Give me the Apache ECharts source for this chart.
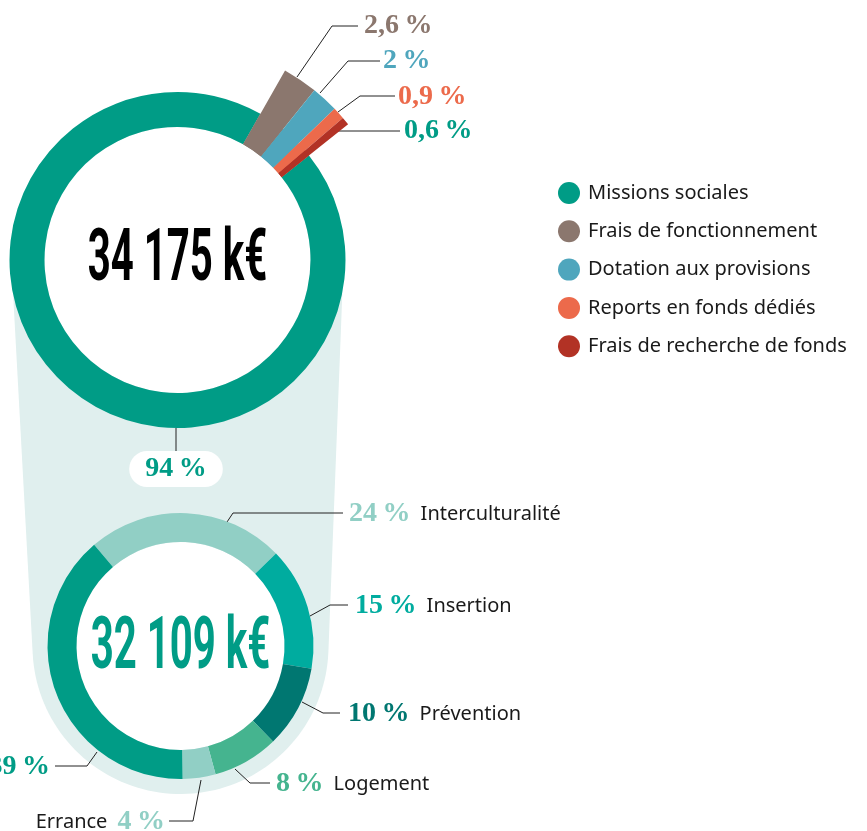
<!DOCTYPE html>
<html>
<head>
<meta charset="utf-8">
<script src="https://cdn.jsdelivr.net/npm/echarts@6/dist/echarts.min.js"></script>
<style>
  html, body { margin: 0; padding: 0; background: #fff; }
  #chart { width: 867px; height: 831px; }
</style>
</head>
<body>
<div id="chart"></div>
<script>
// budget total (top donut)
const topNames = ['Missions sociales', 'Frais de fonctionnement', 'Dotation aux provisions', 'Reports en fonds dédiés', 'Frais de recherche de fonds'];
const topValues = [94, 2.6, 2, 0.9, 0.6];
const topColors = ['#009c86', '#8b776e', '#4fa6bd', '#ec6a4b', '#b23225'];
const topTotal = '34 175 k€';

// detail of missions sociales (bottom donut)
const subNames = ['Interculturalité', 'Insertion', 'Prévention', 'Logement', 'Errance', ''];
const subValues = [24, 15, 10, 8, 4, 39];
const subColors = ['#91cfc5', '#00ac9f', '#007771', '#45b48f', '#91cfc5', '#009c86'];
const subTotal = '32 109 k€';

const topCenter = [177.5, 260];
const subCenter = [180.5, 646];

const serif = '"Liberation Serif", "DejaVu Serif", serif';
const sans = '"Noto Sans", "Open Sans", sans-serif';

function pct(v) {
  return String(v).replace('.', ',') + '\u2009%';
}

// label anchors (x, y, align) and leader lines, by data index
const topLabelPos = [
  null,
  { x: 364, y: 26, align: 'left', line: [[297, 77], [332, 26], [358, 26]] },
  { x: 383, y: 61, align: 'left', line: [[320, 93], [348, 61], [380, 61]] },
  { x: 398, y: 97, align: 'left', line: [[338, 112], [360, 96], [395, 96]] },
  { x: 404, y: 131, align: 'left', line: [[336, 131], [368, 131], [400, 131]] }
];
const subLabelPos = [
  { x: 349, y: 514, align: 'left', line: [[227, 522], [233, 513], [343, 513]] },
  { x: 355, y: 606, align: 'left', line: [[310, 616], [330, 605], [348, 605]] },
  { x: 348, y: 714, align: 'left', line: [[302, 702], [323, 713], [340, 713]] },
  { x: 276, y: 784, align: 'left', line: [[235, 769], [250, 783], [270, 783]] },
  { x: 165, y: 822, align: 'right', line: [[201, 780], [193, 821], [169, 821]] },
  { x: 50, y: 767, align: 'right', line: [[97, 752], [87, 766], [55, 766]] }
];

function layoutFrom(table) {
  return function (params) {
    const p = table[params.dataIndex];
    if (!p) return {};
    return { x: p.x, y: p.y, align: p.align, verticalAlign: 'middle', labelLinePoints: p.line };
  };
}

// hull shape behind both donuts
function hullPoints(c1, r1, c2, r2) {
  const dx = c2[0] - c1[0], dy = c2[1] - c1[1];
  const L = Math.sqrt(dx * dx + dy * dy);
  const phi = Math.atan2(dy, dx);
  const a = Math.acos((r1 - r2) / L);
  const pts = [];
  const n = 80;
  for (let i = 0; i <= n; i++) {
    const t = phi + a + (2 * Math.PI - 2 * a) * i / n;
    pts.push([c1[0] + r1 * Math.cos(t), c1[1] + r1 * Math.sin(t)]);
  }
  for (let i = 0; i <= n; i++) {
    const t = phi - a + 2 * a * i / n;
    pts.push([c2[0] + r2 * Math.cos(t), c2[1] + r2 * Math.sin(t)]);
  }
  return pts;
}

const subRich = {
  n: { fontFamily: sans, fontSize: 20, color: '#1a1a1a', padding: [0, 10, 0, 10] }
};
subColors.forEach((c, i) => {
  subRich['p' + i] = { fontFamily: serif, fontWeight: 'bold', fontSize: 28, color: c };
});

const chart = echarts.init(document.getElementById('chart'), null, { renderer: 'canvas' });

const option = {
  animation: false,
  backgroundColor: '#fff',
  legend: {
    data: topNames,
    orient: 'vertical',
    left: 553,
    top: 177,
    icon: 'circle',
    itemWidth: 22,
    itemHeight: 22,
    itemGap: 16.3,
    selectedMode: false,
    textStyle: { fontFamily: sans, fontSize: 20, color: '#1a1a1a', padding: [0, 0, 0, 3] }
  },
  graphic: [
    {
      type: 'polygon', z: 0, silent: true,
      shape: { points: hullPoints(topCenter, 166, subCenter, 148) },
      style: { fill: '#e0efee' }
    },
    {
      type: 'circle', z: 1, silent: true,
      shape: { cx: topCenter[0], cy: topCenter[1], r: 133 },
      style: { fill: '#fff' }
    },
    {
      type: 'circle', z: 1, silent: true,
      shape: { cx: subCenter[0], cy: subCenter[1], r: 104 },
      style: { fill: '#fff' }
    },
    {
      type: 'text', z: 10, silent: true,
      x: topCenter[0], y: 262, scaleX: 0.55,
      style: { text: topTotal, fontFamily: 'Roboto', fontWeight: 'bold', fontSize: 73, fill: '#000', align: 'center', verticalAlign: 'middle' }
    },
    {
      type: 'text', z: 10, silent: true,
      x: subCenter[0], y: 650, scaleX: 0.55,
      style: { text: subTotal, fontFamily: 'Roboto', fontWeight: 'bold', fontSize: 73, fill: '#009c86', align: 'center', verticalAlign: 'middle' }
    }
  ],
  series: [
    {
      // main ring
      type: 'pie',
      center: topCenter,
      radius: [133, 168],
      startAngle: 38.5,
      avoidLabelOverlap: false,
      silent: true,
      emphasis: { disabled: true },
      data: topNames.map((n, i) => ({
        name: n,
        value: topValues[i],
        itemStyle: { color: topColors[i] },
        label: { show: i === 0 },
        labelLine: { show: i === 0 }
      })),
      label: {
        formatter: p => pct(p.value),
        fontFamily: serif,
        fontWeight: 'bold',
        fontSize: 28,
        color: topColors[0],
        backgroundColor: '#fff',
        borderRadius: 18,
        padding: [5, 16, 3, 16]
      },
      labelLine: { lineStyle: { color: '#222', width: 1 } },
      labelLayout: function (params) {
        if (params.dataIndex !== 0) return {};
        return { x: 176, y: 469, align: 'center', verticalAlign: 'middle', labelLinePoints: [[176, 428], [176, 440], [176, 451]] };
      }
    },
    {
      // pulled-out small slices
      type: 'pie',
      center: topCenter,
      radius: [133, 218],
      startAngle: 38.5,
      avoidLabelOverlap: false,
      silent: true,
      emphasis: { disabled: true },
      data: topNames.map((n, i) => ({
        name: n,
        value: topValues[i],
        itemStyle: { color: i === 0 ? 'rgba(0,0,0,0)' : topColors[i] },
        label: { show: i !== 0, color: topColors[i === 4 ? 0 : i] },
        labelLine: { show: i !== 0 }
      })),
      label: {
        formatter: p => pct(p.value),
        fontFamily: serif,
        fontWeight: 'bold',
        fontSize: 28
      },
      labelLine: { lineStyle: { color: '#222', width: 1 } },
      labelLayout: layoutFrom(topLabelPos)
    },
    {
      type: 'pie',
      center: subCenter,
      radius: [104, 133],
      startAngle: 130.5,
      avoidLabelOverlap: false,
      silent: true,
      emphasis: { disabled: true },
      data: subNames.map((n, i) => ({
        name: n,
        value: subValues[i],
        itemStyle: { color: subColors[i] }
      })),
      label: {
        formatter: function (p) {
          const v = '{p' + p.dataIndex + '|' + pct(p.value) + '}';
          if (!p.name) return v;
          if (p.dataIndex === 4) return '{n|' + p.name + '}' + v;
          return v + '{n|' + p.name + '}';
        },
        rich: subRich
      },
      labelLine: { lineStyle: { color: '#222', width: 1 } },
      labelLayout: layoutFrom(subLabelPos)
    }
  ]
};

chart.setOption(option);
</script>
</body>
</html>
